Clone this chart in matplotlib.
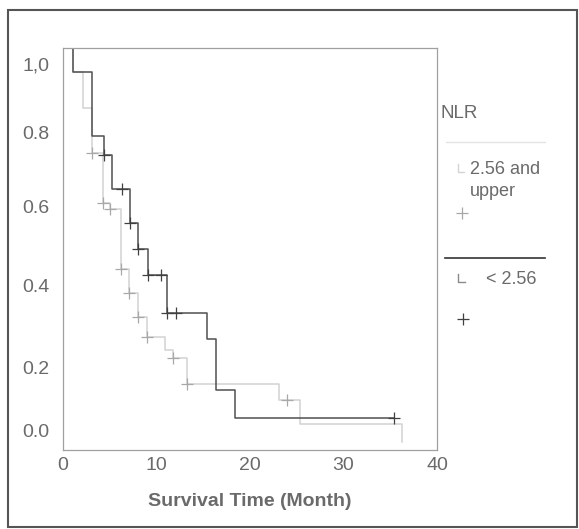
import numpy as np
import matplotlib.pyplot as plt
from matplotlib.lines import Line2D
from matplotlib.patches import Rectangle

plt.rcParams['font.family'] = ['Liberation Sans', 'DejaVu Sans']

# Kaplan-Meier steps, NLR 2.56 and upper (light curve)
t_hi = [0, 1.07, 2.14, 3.1, 4.28, 5.03, 6.2, 7.07, 8.03, 9.0, 10.9, 11.8, 13.3, 23.1, 25.3, 36.3]
s_hi = [1.0, 0.94, 0.85, 0.74, 0.615, 0.60, 0.45, 0.39, 0.33, 0.28, 0.25, 0.23, 0.165, 0.125, 0.065, 0.02]
cens_t_hi = [3.1, 4.28, 5.03, 6.2, 7.07, 8.03, 9.0, 11.8, 13.3, 24.0]
cens_s_hi = [0.74, 0.615, 0.60, 0.45, 0.39, 0.33, 0.28, 0.23, 0.165, 0.125]

# NLR < 2.56 (dark curve)
t_lo = [0, 1.04, 3.14, 4.39, 5.25, 7.17, 8.03, 9.1, 11.13, 15.4, 16.4, 18.4, 35.4]
s_lo = [1.0, 0.94, 0.78, 0.735, 0.65, 0.565, 0.50, 0.435, 0.34, 0.275, 0.15, 0.08, 0.08]
cens_t_lo = [4.39, 6.3, 7.17, 8.03, 9.1, 10.5, 11.13, 12.1, 35.4]
cens_s_lo = [0.735, 0.65, 0.565, 0.50, 0.435, 0.435, 0.34, 0.34, 0.08]

ytick_labels = ['0.0', '0.2', '0.4', '0.6', '0.8', '1,0']
ytick_pos = [0.0475, 0.205, 0.41, 0.605, 0.79, 0.96]  # where the scanned labels sit
xticks = [0, 10, 20, 30, 40]

W, H = 579, 529
fig = plt.figure(figsize=(W / 100, H / 100), dpi=100)


def fx(x):
    return x / W


def fy(y):
    return 1 - y / H


txt = '#6a6a6a'
light = '#d2d2d2'
dark = '#505050'
plus_light = '#a8a8a8'
plus_dark = '#404040'

ax = fig.add_axes([fx(63), fy(450), fx(437) - fx(63), fy(48) - fy(450)])
ax.step(t_hi, s_hi, where='post', color=light, lw=1.1)
ax.step(t_lo, s_lo, where='post', color=dark, lw=1.1)
ax.plot(cens_t_hi, cens_s_hi, ls='none', marker='+', ms=8.5, mew=0.9, color=plus_light)
ax.plot(cens_t_lo, cens_s_lo, ls='none', marker='+', ms=8.5, mew=0.9, color=plus_dark)

ax.set_xlim(0, 40)
ax.set_ylim(0, 1)
ax.set_xticks(xticks)
ax.set_yticks(ytick_pos)
ax.set_yticklabels(ytick_labels)
ax.tick_params(length=0, labelsize=14, colors=txt)
ax.tick_params(axis='y', pad=10)
ax.tick_params(axis='x', pad=5)
for sp in ax.spines.values():
    sp.set_color('#a0a0a0')
    sp.set_linewidth(0.9)
ax.set_xlabel('Survival Time (Month)', fontsize=14, fontweight='bold', color=txt, labelpad=14)

# legend drawn by hand
fig.text(fx(441), fy(113), 'NLR', fontsize=13.5, color=txt, va='center', ha='left')
fig.add_artist(Line2D([fx(446), fx(545)], [fy(142), fy(142)], color='#e4e4e4', lw=1))
fig.add_artist(Line2D([fx(458), fx(458), fx(464)], [fy(164), fy(172), fy(172)], color='#d4d4d4', lw=1))
fig.text(fx(470), fy(170), '2.56 and', fontsize=13, color=txt, va='center', ha='left')
fig.text(fx(470), fy(192), 'upper', fontsize=13, color=txt, va='center', ha='left')
fig.add_artist(Line2D([fx(462)], [fy(213)], marker='+', ms=8.5, mew=0.9, color=plus_light, ls='none'))

fig.add_artist(Line2D([fx(445), fx(545)], [fy(258), fy(258)], color='#333333', lw=1.2))
fig.add_artist(Line2D([fx(458), fx(458), fx(465)], [fy(274), fy(282), fy(282)], color='#8a8a8a', lw=1))
fig.text(fx(486), fy(280), '< 2.56', fontsize=13, color=txt, va='center', ha='left')
fig.add_artist(Line2D([fx(463)], [fy(319)], marker='+', ms=8.5, mew=0.9, color=plus_dark, ls='none'))

# outer frame of the scanned figure
fig.add_artist(Rectangle((fx(8), fy(527)), fx(577) - fx(8), fy(10) - fy(527),
                         fill=False, edgecolor='#555555', lw=1.5))

fig.savefig('out.png', dpi=100, facecolor='white')
